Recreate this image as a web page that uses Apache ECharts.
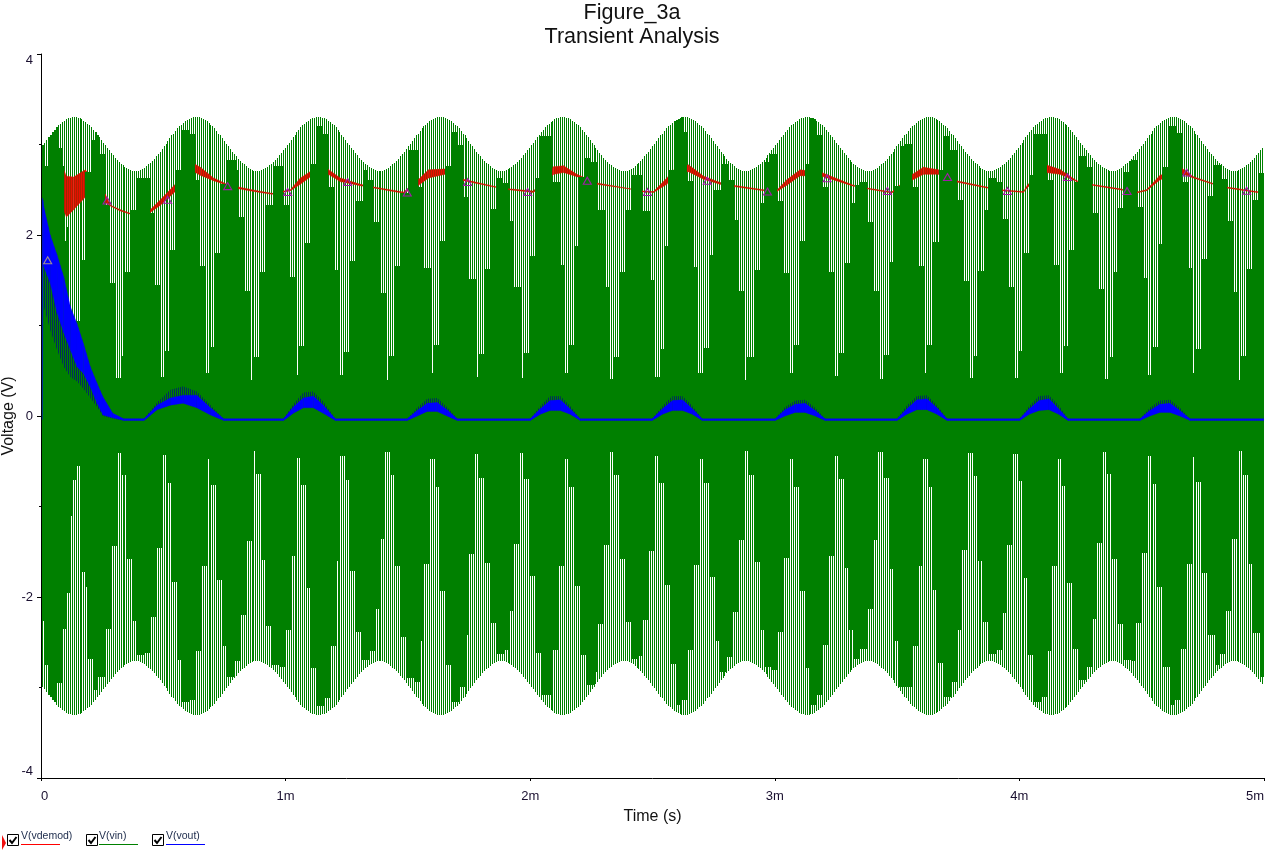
<!DOCTYPE html>
<html><head><meta charset="utf-8">
<style>html,body{margin:0;padding:0;background:#fff}#c{width:1267px;height:854px}</style>
<script src="https://cdn.jsdelivr.net/npm/echarts@6/dist/echarts.min.js"></script>
</head><body><div id="c"></div>
<script>
const legendNames=['V(vdemod)','V(vin)','V(vout)'];
const xTickLabels={0:'0',1:'1m',2:'2m',3:'3m',4:'4m',5:'5m'};
// vin envelope, one reading per carrier cycle (8 us)
const vinUpper=[2.99,3.02,3.05,3.08,3.11,3.14,3.16,3.19,3.21,3.23,3.25,3.26,3.28,3.29,3.29,3.30,3.30,
3.30,3.29,3.29,3.28,3.26,3.25,3.23,3.21,3.19,3.16,3.14,3.11,3.08,3.05,3.02,2.99,2.96,2.94,2.91,2.88,2.85,2.83,2.81,2.78,2.77,2.75,2.74,2.73,2.72,2.71,2.71,
2.71,2.71,2.72,2.73,2.74,2.76,2.78,2.80,2.82,2.84,2.87,2.89,2.92,2.95,2.98,3.01,3.04,3.07,3.10,3.12,3.15,3.18,3.20,3.22,3.24,3.26,3.27,3.28,3.29,3.30,3.30,
3.30,3.30,3.29,3.28,3.27,3.26,3.24,3.22,3.20,3.18,3.15,3.12,3.10,3.07,3.04,3.01,2.98,2.95,2.92,2.89,2.87,2.84,2.82,2.80,2.78,2.76,2.74,2.73,2.72,2.71,2.71,
2.71,2.71,2.72,2.73,2.74,2.75,2.77,2.78,2.81,2.83,2.85,2.88,2.91,2.94,2.96,2.99,3.02,3.05,3.08,3.11,3.14,3.16,3.19,3.21,3.23,3.25,3.26,3.28,3.29,3.29,3.30,3.30,
3.30,3.29,3.29,3.28,3.26,3.25,3.23,3.21,3.19,3.16,3.14,3.11,3.08,3.05,3.02,2.99,2.96,2.94,2.91,2.88,2.85,2.83,2.81,2.78,2.77,2.75,2.74,2.73,2.72,2.71,2.71,
2.71,2.71,2.72,2.73,2.74,2.76,2.78,2.80,2.82,2.84,2.87,2.89,2.92,2.95,2.98,3.01,3.04,3.07,3.10,3.12,3.15,3.18,3.20,3.22,3.24,3.26,3.27,3.28,3.29,3.30,3.30,
3.30,3.30,3.29,3.28,3.27,3.26,3.24,3.22,3.20,3.18,3.15,3.12,3.10,3.07,3.04,3.01,2.98,2.95,2.92,2.89,2.87,2.84,2.82,2.80,2.78,2.76,2.74,2.73,2.72,2.71,2.71,
2.71,2.71,2.72,2.73,2.74,2.75,2.77,2.78,2.81,2.83,2.85,2.88,2.91,2.94,2.96,2.99,3.02,3.05,3.08,3.11,3.14,3.16,3.19,3.21,3.23,3.25,3.26,3.28,3.29,3.29,3.30,3.30,
3.30,3.29,3.29,3.28,3.26,3.25,3.23,3.21,3.19,3.16,3.14,3.11,3.08,3.05,3.02,2.99,2.96,2.94,2.91,2.88,2.85,2.83,2.81,2.78,2.77,2.75,2.74,2.73,2.72,2.71,2.71,
2.71,2.71,2.72,2.73,2.74,2.76,2.78,2.80,2.82,2.84,2.87,2.89,2.92,2.95,2.98,3.01,3.04,3.07,3.10,3.12,3.15,3.18,3.20,3.22,3.24,3.26,3.27,3.28,3.29,3.30,3.30,
3.30,3.30,3.29,3.28,3.27,3.26,3.24,3.22,3.20,3.18,3.15,3.12,3.10,3.07,3.04,3.01,2.98,2.95,2.92,2.89,2.87,2.84,2.82,2.80,2.78,2.76,2.74,2.73,2.72,2.71,2.71,
2.71,2.71,2.72,2.73,2.74,2.75,2.77,2.78,2.81,2.83,2.85,2.88,2.91,2.94,2.96,2.99,3.02,3.05,3.08,3.11,3.14,3.16,3.19,3.21,3.23,3.25,3.26,3.28,3.29,3.29,3.30,3.30,
3.30,3.29,3.29,3.28,3.26,3.25,3.23,3.21,3.19,3.16,3.14,3.11,3.08,3.05,3.02,2.99,2.96,2.94,2.91,2.88,2.85,2.83,2.81,2.78,2.77,2.75,2.74,2.73,2.72,2.71,2.71,
2.71,2.71,2.72,2.73,2.74,2.76,2.78,2.80,2.82,2.84,2.87,2.89,2.92,2.95,2.98,3.01,3.04,3.07,3.10,3.12,3.15,3.18,3.20,3.22,3.24,3.26,3.27,3.28,3.29,3.30,3.30,
3.30,3.30,3.29,3.28,3.27,3.26,3.24,3.22,3.20,3.18,3.15,3.12,3.10,3.07,3.04,3.01,2.98,2.95,2.92,2.89,2.87,2.84,2.82,2.80,2.78,2.76,2.74,2.73,2.72,2.71,2.71,
2.71,2.71,2.72,2.73,2.74,2.75,2.77,2.78,2.81,2.83,2.85,2.88,2.91,2.94,2.96,2.99,3.02,3.05,3.08,3.11,3.14,3.16,3.19,3.21,3.23,3.25,3.26,3.28,3.29,3.29,3.30,3.30,
3.30,3.29,3.29,3.28,3.26,3.25,3.23,3.21,3.19,3.16,3.14,3.11,3.08,3.05,3.02,2.99,2.96,2.94,2.91,2.88,2.85,2.83,2.81,2.78,2.77,2.75,2.74,2.73,2.72,2.71,2.71,
2.71,2.71,2.72,2.73,2.74,2.76,2.78,2.80,2.82,2.84,2.87,2.89,2.92,2.95,2.98,3.01,3.04,3.07,3.10,3.12,3.15,3.18,3.20,3.22,3.24,3.26,3.27,3.28,3.29,3.30,3.30,
3.30,3.30,3.29,3.28,3.27,3.26,3.24,3.22,3.20,3.18,3.15,3.12,3.10,3.07,3.04,3.01,2.98,2.95,2.92,2.89,2.87,2.84,2.82,2.80,2.78,2.76,2.74,2.73,2.72,2.71,2.71,
2.71,2.71,2.72,2.73,2.74,2.75,2.77,2.78,2.81,2.83,2.85,2.88,2.91,2.94,2.96];
const vinLower=[-2.99,-3.02,-3.05,-3.08,-3.11,-3.14,-3.16,-3.19,-3.21,-3.23,-3.25,-3.26,-3.28,-3.29,-3.29,-3.30,-3.30,
-3.30,-3.29,-3.29,-3.28,-3.26,-3.25,-3.23,-3.21,-3.19,-3.16,-3.14,-3.11,-3.08,-3.05,-3.02,-2.99,-2.96,-2.94,-2.91,-2.88,-2.85,-2.83,-2.81,-2.78,-2.77,-2.75,-2.74,-2.73,-2.72,-2.71,-2.71,
-2.71,-2.71,-2.72,-2.73,-2.74,-2.76,-2.78,-2.80,-2.82,-2.84,-2.87,-2.89,-2.92,-2.95,-2.98,-3.01,-3.04,-3.07,-3.10,-3.12,-3.15,-3.18,-3.20,-3.22,-3.24,-3.26,-3.27,-3.28,-3.29,-3.30,-3.30,
-3.30,-3.30,-3.29,-3.28,-3.27,-3.26,-3.24,-3.22,-3.20,-3.18,-3.15,-3.12,-3.10,-3.07,-3.04,-3.01,-2.98,-2.95,-2.92,-2.89,-2.87,-2.84,-2.82,-2.80,-2.78,-2.76,-2.74,-2.73,-2.72,-2.71,-2.71,
-2.71,-2.71,-2.72,-2.73,-2.74,-2.75,-2.77,-2.78,-2.81,-2.83,-2.85,-2.88,-2.91,-2.94,-2.96,-2.99,-3.02,-3.05,-3.08,-3.11,-3.14,-3.16,-3.19,-3.21,-3.23,-3.25,-3.26,-3.28,-3.29,-3.29,-3.30,-3.30,
-3.30,-3.29,-3.29,-3.28,-3.26,-3.25,-3.23,-3.21,-3.19,-3.16,-3.14,-3.11,-3.08,-3.05,-3.02,-2.99,-2.96,-2.94,-2.91,-2.88,-2.85,-2.83,-2.81,-2.78,-2.77,-2.75,-2.74,-2.73,-2.72,-2.71,-2.71,
-2.71,-2.71,-2.72,-2.73,-2.74,-2.76,-2.78,-2.80,-2.82,-2.84,-2.87,-2.89,-2.92,-2.95,-2.98,-3.01,-3.04,-3.07,-3.10,-3.12,-3.15,-3.18,-3.20,-3.22,-3.24,-3.26,-3.27,-3.28,-3.29,-3.30,-3.30,
-3.30,-3.30,-3.29,-3.28,-3.27,-3.26,-3.24,-3.22,-3.20,-3.18,-3.15,-3.12,-3.10,-3.07,-3.04,-3.01,-2.98,-2.95,-2.92,-2.89,-2.87,-2.84,-2.82,-2.80,-2.78,-2.76,-2.74,-2.73,-2.72,-2.71,-2.71,
-2.71,-2.71,-2.72,-2.73,-2.74,-2.75,-2.77,-2.78,-2.81,-2.83,-2.85,-2.88,-2.91,-2.94,-2.96,-2.99,-3.02,-3.05,-3.08,-3.11,-3.14,-3.16,-3.19,-3.21,-3.23,-3.25,-3.26,-3.28,-3.29,-3.29,-3.30,-3.30,
-3.30,-3.29,-3.29,-3.28,-3.26,-3.25,-3.23,-3.21,-3.19,-3.16,-3.14,-3.11,-3.08,-3.05,-3.02,-2.99,-2.96,-2.94,-2.91,-2.88,-2.85,-2.83,-2.81,-2.78,-2.77,-2.75,-2.74,-2.73,-2.72,-2.71,-2.71,
-2.71,-2.71,-2.72,-2.73,-2.74,-2.76,-2.78,-2.80,-2.82,-2.84,-2.87,-2.89,-2.92,-2.95,-2.98,-3.01,-3.04,-3.07,-3.10,-3.12,-3.15,-3.18,-3.20,-3.22,-3.24,-3.26,-3.27,-3.28,-3.29,-3.30,-3.30,
-3.30,-3.30,-3.29,-3.28,-3.27,-3.26,-3.24,-3.22,-3.20,-3.18,-3.15,-3.12,-3.10,-3.07,-3.04,-3.01,-2.98,-2.95,-2.92,-2.89,-2.87,-2.84,-2.82,-2.80,-2.78,-2.76,-2.74,-2.73,-2.72,-2.71,-2.71,
-2.71,-2.71,-2.72,-2.73,-2.74,-2.75,-2.77,-2.78,-2.81,-2.83,-2.85,-2.88,-2.91,-2.94,-2.96,-2.99,-3.02,-3.05,-3.08,-3.11,-3.14,-3.16,-3.19,-3.21,-3.23,-3.25,-3.26,-3.28,-3.29,-3.29,-3.30,-3.30,
-3.30,-3.29,-3.29,-3.28,-3.26,-3.25,-3.23,-3.21,-3.19,-3.16,-3.14,-3.11,-3.08,-3.05,-3.02,-2.99,-2.96,-2.94,-2.91,-2.88,-2.85,-2.83,-2.81,-2.78,-2.77,-2.75,-2.74,-2.73,-2.72,-2.71,-2.71,
-2.71,-2.71,-2.72,-2.73,-2.74,-2.76,-2.78,-2.80,-2.82,-2.84,-2.87,-2.89,-2.92,-2.95,-2.98,-3.01,-3.04,-3.07,-3.10,-3.12,-3.15,-3.18,-3.20,-3.22,-3.24,-3.26,-3.27,-3.28,-3.29,-3.30,-3.30,
-3.30,-3.30,-3.29,-3.28,-3.27,-3.26,-3.24,-3.22,-3.20,-3.18,-3.15,-3.12,-3.10,-3.07,-3.04,-3.01,-2.98,-2.95,-2.92,-2.89,-2.87,-2.84,-2.82,-2.80,-2.78,-2.76,-2.74,-2.73,-2.72,-2.71,-2.71,
-2.71,-2.71,-2.72,-2.73,-2.74,-2.75,-2.77,-2.78,-2.81,-2.83,-2.85,-2.88,-2.91,-2.94,-2.96,-2.99,-3.02,-3.05,-3.08,-3.11,-3.14,-3.16,-3.19,-3.21,-3.23,-3.25,-3.26,-3.28,-3.29,-3.29,-3.30,-3.30,
-3.30,-3.29,-3.29,-3.28,-3.26,-3.25,-3.23,-3.21,-3.19,-3.16,-3.14,-3.11,-3.08,-3.05,-3.02,-2.99,-2.96,-2.94,-2.91,-2.88,-2.85,-2.83,-2.81,-2.78,-2.77,-2.75,-2.74,-2.73,-2.72,-2.71,-2.71,
-2.71,-2.71,-2.72,-2.73,-2.74,-2.76,-2.78,-2.80,-2.82,-2.84,-2.87,-2.89,-2.92,-2.95,-2.98,-3.01,-3.04,-3.07,-3.10,-3.12,-3.15,-3.18,-3.20,-3.22,-3.24,-3.26,-3.27,-3.28,-3.29,-3.30,-3.30,
-3.30,-3.30,-3.29,-3.28,-3.27,-3.26,-3.24,-3.22,-3.20,-3.18,-3.15,-3.12,-3.10,-3.07,-3.04,-3.01,-2.98,-2.95,-2.92,-2.89,-2.87,-2.84,-2.82,-2.80,-2.78,-2.76,-2.74,-2.73,-2.72,-2.71,-2.71,
-2.71,-2.71,-2.72,-2.73,-2.74,-2.75,-2.77,-2.78,-2.81,-2.83,-2.85,-2.88,-2.91,-2.94,-2.96];
// white-gap blocks on the positive side: first carrier cycle of block, and how far down the gaps reach (3.4 = no gap)
const topGapCycle=[0,1,3,8,10,11,12,13,19,22,25,27,29,32,34,37,40,42,45,48,52,55,57,60,62,65,68,71,75,78,80,83,85,88,91,94,99,100,103,106,108,111,114,118,120,123,126,129,131,134,137,140,143,146,149,152,154,157,160,164,166,169,173,176,177,180,183,187,190,192,195,199,200,203,206,
209,212,215,218,222,223,226,229,232,235,238,241,245,246,249,252,254,259,261,265,267,269,272,274,277,280,284,288,290,292,295,298,301,304,307,311,313,316,318,320,323,328,330,333,335,338,341,343,347,351,354,356,359,360,364,367,369,372,376,379,382,384,387,390,393,396,399,402,405,407,410,413,416,
418,422,425,428,430,433,436,439,441,445,448,451,452,455,459,461,464,468,471,474,476,478,482,484,488,491,494,497,499,502,505,507,511,514,517,520,522,525,528,530,534,537,540,543,545,548,550,553,556,560,563,565,568,571,573,576,580,583,586,588,590,593,596,599,603,606,609,611,613,616,619,622];
const topGapVolt=[3.4,2.76,3.4,2.96,2.76,1.93,2.09,1.05,1.72,2.70,3.05,3.4,2.90,2.33,1.47,0.42,0.66,1.59,2.28,2.63,2.63,2.24,1.45,0.43,0.72,1.83,2.72,3.16,3.12,2.61,1.66,0.48,0.76,1.80,2.56,2.83,2.72,2.20,1.38,0.40,0.65,1.59,2.33,2.76,2.76,2.33,1.54,0.45,0.77,1.91,2.78,3.20,3.12,2.53,1.61,0.45,0.71,1.71,2.38,2.72,2.61,2.14,1.36,0.40,0.66,1.66,2.46,2.94,2.94,2.53,1.63,0.48,0.79,1.93,2.76,
3.14,2.99,2.42,1.51,0.43,0.68,1.62,2.29,2.63,2.58,2.16,1.42,0.42,0.70,1.77,2.63,3.09,3.09,2.59,1.67,0.48,0.78,1.88,2.64,2.85,2.81,2.28,1.43,0.41,0.65,1.59,2.28,2.66,2.66,2.26,1.50,0.43,0.74,1.88,2.72,3.4,3.14,2.60,1.65,0.47,0.75,1.78,2.50,2.79,2.61,2.17,1.38,0.40,0.65,1.61,2.35,2.81,2.90,2.38,1.58,0.47,0.78,1.93,2.78,3.4,3.10,2.53,1.59,0.44,0.70,1.69,2.35,2.55,
2.59,2.14,1.38,0.41,0.67,1.70,2.54,2.98,3.01,2.53,1.66,0.48,0.79,1.92,2.72,3.09,2.94,2.39,1.49,0.42,0.66,1.60,2.28,2.63,2.59,2.18,1.43,0.42,0.72,1.80,2.66,3.12,3.12,2.61,1.67,0.48,0.77,1.83,2.59,2.87,2.75,2.24,1.40,0.41,0.65,1.59,2.30,2.70,2.83,2.31,1.52,0.45,0.76,1.90,2.75,3.20,3.13,2.59,1.63,0.47,0.74,1.74,2.43,2.77,2.62,2.15,1.37,0.40,0.66,1.62,2.39,2.68];
// white-gap blocks on the negative side (-9 = no gap)
const bottomGapCycle=[0,1,3,7,10,12,14,15,17,19,22,23,26,28,32,35,38,40,43,46,48,52,55,58,61,63,66,69,71,75,78,81,84,86,89,92,94,98,101,104,107,109,112,114,117,121,124,127,129,132,135,137,140,144,147,150,152,155,157,160,163,167,170,172,175,178,180,183,186,190,193,195,198,201,203,206,
209,213,216,218,221,223,226,229,232,236,238,241,244,246,249,252,255,259,261,264,267,269,272,275,278,282,284,287,290,292,295,298,301,304,307,310,313,315,318,321,324,327,330,333,336,338,341,344,346,350,353,356,359,361,364,367,369,373,376,379,382,384,387,390,392,396,399,402,405,407,410,412,415,
418,422,425,427,430,433,435,438,442,445,448,450,453,455,458,461,465,468,470,473,476,478,481,484,488,491,493,496,499,501,504,507,511,514,516,519,521,524,527,530,534,537,539,542,544,547,550,553,557,559,562,565,567,570,573,577,579,582,585,588,590,593,596,600,602,605,608,611,614,617,619,623];
const bottomGapVolt=[-2.27,-2.75,-9,-2.95,-2.35,-1.96,-1.11,-0.71,-0.55,-1.72,-1.89,-2.68,-3.03,-2.88,-2.35,-1.44,-0.41,-0.65,-1.58,-2.27,-2.64,-2.62,-2.22,-1.46,-0.43,-0.74,-1.83,-2.70,-3.16,-3.14,-2.60,-1.66,-0.47,-0.76,-1.81,-2.54,-2.88,-2.71,-2.20,-1.38,-0.39,-0.64,-1.59,-2.32,-2.75,-2.77,-2.36,-1.55,-0.46,-0.76,-1.90,-2.78,-3.20,-3.12,-2.54,-1.60,-0.44,-0.71,-1.71,-2.39,-2.70,-2.60,-2.13,-1.36,-0.40,-0.65,-1.66,-2.44,-2.90,-2.94,-2.49,-1.63,-0.47,-0.78,-1.93,-2.75,
-3.16,-2.99,-2.42,-1.52,-0.42,-0.68,-1.62,-2.29,-2.63,-2.59,-2.16,-1.41,-0.41,-0.70,-1.77,-2.62,-3.08,-3.08,-2.59,-1.66,-0.48,-0.78,-1.88,-2.64,-2.97,-2.83,-2.30,-1.43,-0.40,-0.65,-1.58,-2.28,-2.68,-2.65,-2.25,-1.49,-0.44,-0.74,-1.87,-2.74,-3.19,-3.14,-2.59,-1.65,-0.47,-0.74,-1.78,-2.49,-2.83,-2.66,-2.17,-1.37,-0.39,-0.65,-1.61,-2.36,-2.77,-2.81,-2.39,-1.57,-0.47,-0.78,-1.93,-2.79,-3.19,-3.08,-2.53,-1.55,-0.44,-0.70,-1.68,-2.36,-2.68,
-2.58,-2.13,-1.37,-0.40,-0.68,-1.69,-2.49,-2.99,-2.99,-2.54,-1.66,-0.48,-0.79,-1.92,-2.73,-3.10,-2.94,-2.37,-1.48,-0.41,-0.66,-1.60,-2.28,-2.63,-2.59,-2.18,-1.43,-0.42,-0.72,-1.79,-2.64,-3.16,-3.11,-2.60,-1.66,-0.48,-0.77,-1.85,-2.57,-2.92,-2.77,-2.24,-1.40,-0.40,-0.64,-1.58,-2.30,-2.70,-2.71,-2.29,-1.51,-0.44,-0.75,-1.89,-2.77,-3.19,-3.14,-2.58,-1.64,-0.45,-0.73,-1.74,-2.42,-2.75,-2.63,-2.15,-1.36,-0.39,-0.65,-1.63,-2.40,-2.88];
// V(vdemod): carrier cycle, band top and bottom
const demodCycle=[10.2,12.3,16,22,32.2,34.8,39.9,45,55.2,60.4,68,78.3,80.8,87.6,94.5,100.4,109.8,117.5,126.9,132,137,146.3,152.4,162.7,169.5,184.8,192.5,197.6,206,212.1,215.5,230.9,236.8,251.3,261.6,266.7,273.5,283.7,299.9,307.6,312.7,319.5,323.3,330.6,338.3,346.8,353.6,369,375.8,380.9,387.7,398.8,415,418.4,421.8,434.6,444.5,450.8,458.5,467.8,483.2,490.9,502,504,513.5,520.7,529.2,536.9,551.4,559.9,565,571.9,582.9,588.9,599.1,605.9,621.3,625];
const demodHigh=[2.76,2.65,2.64,2.72,2.45,2.33,2.28,2.24,2.28,2.39,2.56,2.78,2.75,2.63,2.56,2.53,2.49,2.46,2.50,2.63,2.70,2.725,2.63,2.56,2.53,2.475,2.615,2.72,2.73,2.65,2.615,2.54,2.515,2.485,2.755,2.765,2.67,2.575,2.515,2.485,2.48,2.63,2.725,2.775,2.65,2.58,2.55,2.50,2.495,2.61,2.72,2.69,2.55,2.54,2.52,2.475,2.66,2.75,2.72,2.60,2.53,2.50,2.48,2.55,2.775,2.725,2.60,2.56,2.51,2.475,2.50,2.66,2.74,2.645,2.57,2.53,2.48,2.475];
const demodLow=[2.31,2.20,2.28,2.42,2.36,2.32,2.265,2.23,2.25,2.33,2.48,2.69,2.66,2.60,2.55,2.51,2.475,2.45,2.49,2.56,2.64,2.67,2.59,2.545,2.52,2.46,2.55,2.63,2.67,2.63,2.60,2.53,2.505,2.47,2.67,2.69,2.645,2.56,2.51,2.475,2.47,2.56,2.68,2.70,2.615,2.56,2.535,2.49,2.48,2.55,2.655,2.65,2.54,2.53,2.51,2.465,2.60,2.67,2.67,2.585,2.52,2.49,2.47,2.525,2.69,2.67,2.59,2.55,2.50,2.465,2.49,2.61,2.68,2.63,2.56,2.52,2.47,2.465];
// V(vout): carrier cycle, solid band top and bottom, stripe fringe top and bottom
const voutCycle=[0,0.3,0.7,4,7.5,10.9,14.3,17.7,21,24.5,28,31,36,41.6,52,58.7,65.5,72,79,86,92.8,123.4,128.4,133.5,138.6,143.7,149.9,186.7,191.8,196.9,202,207,212.3,249.6,254.8,259.8,265,270,275.2,312,317.3,322.4,327.5,332.6,337.6,375,380,385.2,390.2,395.4,400.5,437.3,442.4,447.5,452.6,457.7,462.9,500,505,510,515,520,524.8,561.6,566.7,571.8,577,582,587.2,625];
const voutHigh=[2.41,2.38,2.31,2.0,1.78,1.54,1.21,1.02,.80,.545,.36,.21,.03,-.03,-.03,.12,.2,.23,.23,.09,-.03,-.03,.1,.2,.22,.12,-.03,-.03,.06,.14,.15,.07,-.03,-.03,.08,.17,.18,.08,-.03,-.03,.08,.17,.18,.08,-.03,-.03,.07,.13,.14,.06,-.03,-.03,.08,.18,.19,.09,-.03,-.03,.08,.17,.19,.08,-.03,-.03,.06,.13,.14,.06,-.03,-.03];
const voutLow=[-.04,1.70,1.65,1.47,1.14,.92,.73,.545,.47,.32,.14,.01,-.02,-.05,-.05,.07,.12,.14,.09,.01,-.05,-.05,.03,.09,.09,.03,-.05,-.05,.0,.05,.05,.0,-.05,-.05,.02,.06,.06,.02,-.05,-.05,.02,.06,.06,.02,-.05,-.05,.0,.04,.04,.0,-.05,-.05,.02,.07,.07,.02,-.05,-.05,.02,.06,.07,.02,-.05,-.05,.0,.04,.04,.0,-.05,-.05];
const voutFringeHigh=[2.41,2.38,2.31,2.0,1.78,1.54,1.21,1.02,.80,.545,.36,.21,.03,-.03,-.03,.15,.29,.33,.27,.12,-.03,-.03,.13,.26,.27,.16,-.03,-.03,.09,.19,.2,.1,-.03,-.03,.11,.22,.22,.11,-.03,-.03,.11,.22,.22,.11,-.03,-.03,.1,.17,.18,.09,-.03,-.03,.12,.22,.23,.12,-.03,-.03,.11,.22,.23,.12,-.03,-.03,.09,.17,.18,.09,-.03,-.03];
const voutFringeLow=[-.04,1.30,1.21,.95,.73,.545,.43,.38,.30,.2,.1,0,-.03,-.05,-.05,.07,.12,.14,.09,.01,-.05,-.05,.03,.09,.09,.03,-.05,-.05,.0,.05,.05,.0,-.05,-.05,.02,.06,.06,.02,-.05,-.05,.02,.06,.06,.02,-.05,-.05,.0,.04,.04,.0,-.05,-.05,.02,.07,.07,.02,-.05,-.05,.02,.06,.07,.02,-.05,-.05,.0,.04,.04,.0,-.05,-.05];
// curve-marker triangles
const markerCycle=[33.1,64.1,94.8,125.5,156.2,186.7,217.6,248.3,278.8,309.6,340.2,371,401.5,432.4,463.1,493.8,524.5,555,585.5,616.2];
const markerVolt=[2.38,2.39,2.54,2.475,2.585,2.47,2.585,2.475,2.60,2.475,2.60,2.48,2.626,2.486,2.64,2.486,2.64,2.486,2.69,2.49];
const voutMarkerCycle=[2.7];
const voutMarkerVolt=[1.72];

const CYCLE_MS=0.00799, START_MS=0.0057;
const cycleTime=c=>START_MS+c*CYCLE_MS;
const GREEN='#008000', RED='#e81000', BLUE='#0000ff', PURPLE='#a01ca8';

function gapValue(cycles,volts,i){let k=0;while(k+1<cycles.length&&cycles[k+1]<=i)k++;return volts[k];}
const columns=vinUpper.map((hi,i)=>{
  const lo=vinLower[i];
  return [cycleTime(i),hi,lo,Math.min(hi,gapValue(topGapCycle,topGapVolt,i)),Math.max(lo,gapValue(bottomGapCycle,bottomGapVolt,i)),cycleTime(i+1)];
});
function segs(cy,a,b){const o=[];for(let i=0;i+1<cy.length;i++)o.push([cycleTime(cy[i]),a[i],b[i],cycleTime(cy[i+1]),a[i+1],b[i+1]]);return o;}
function polySeries(data,fill,z,stroke){
  return {type:'custom',z,silent:true,clip:true,data,encode:{x:[0,3],y:[1,2,4,5]},progressive:0,animation:false,
    renderItem:(p,api)=>{
      const a=api.coord([api.value(0),api.value(1)]),b=api.coord([api.value(3),api.value(4)]),
            c=api.coord([api.value(3),api.value(5)]),d=api.coord([api.value(0),api.value(2)]);
      return {type:'polygon',shape:{points:[a,b,c,d]},style:stroke?{fill:fill,stroke:fill,lineWidth:stroke}:{fill:fill}};
    }};
}
function columnSeries(z,color,yHi,yLo,odd){
  return {type:'custom',z,silent:true,clip:true,data:columns,encode:{x:[0,5],y:[1,2,3,4]},progressive:0,animation:false,
    renderItem:(p,api)=>{
      const x0=Math.round(api.coord([api.value(0),0])[0]),x1=Math.round(api.coord([api.value(5),0])[0]);
      const y0=Math.round(api.coord([0,api.value(yHi)])[1]),y1=Math.round(api.coord([0,api.value(yLo)])[1]);
      const x=odd?x0+1:x0,w=odd?Math.max(0,x1-x0-1):1;
      return {type:'rect',shape:{x,y:y0,width:w,height:y1-y0},style:{fill:color}};
    }};
}
function comb(color){
  const cv=document.createElement('canvas');cv.width=2;cv.height=2;
  const g=cv.getContext('2d');g.fillStyle=color;g.fillRect(0,0,1,2);
  return {image:cv,repeat:'repeat'};
}

function checkbox(x,y){return [
  {type:'rect',shape:{x:x+.5,y:y+.5,width:11,height:11},style:{fill:'#fff',stroke:'#000',lineWidth:1}},
  {type:'polyline',shape:{points:[[x+2.5,y+6],[x+5,y+9],[x+9.5,y+3]]},style:{fill:'none',stroke:'#000',lineWidth:2}}];}
function legendEntry(name,xBox,xText,color){return [
  ...checkbox(xBox,834),
  {type:'text',style:{text:name,x:xText,y:836,fill:'#1b2a4a',font:'10.5px "Liberation Sans",Arial,sans-serif',verticalAlign:'middle'}},
  {type:'rect',shape:{x:xText,y:844,width:39,height:1},style:{fill:color}}];}

const chart=echarts.init(document.getElementById('c'),null,{renderer:'canvas'});
chart.setOption({
  animation:false,backgroundColor:'#fff',
  title:{text:'Figure_3a\nTransient Analysis',left:627,top:-4,textAlign:'center',
    textStyle:{fontFamily:'"Liberation Sans",Arial,sans-serif',fontSize:21.5,fontWeight:'normal',color:'#111',lineHeight:24}},
  grid:{left:41,right:3,top:54,bottom:76,containLabel:false,outerBoundsMode:'none'},
  xAxis:{type:'value',min:0,max:5,interval:1,name:'Time (s)',nameLocation:'middle',nameGap:31,nameMoveOverlap:false,
    nameTextStyle:{fontFamily:'"Liberation Sans",Arial,sans-serif',fontSize:16,color:'#111'},
    axisLine:{onZero:false,lineStyle:{color:'#000',width:1}},axisTick:{length:3,lineStyle:{color:'#000'}},
    splitLine:{show:false},minorTick:{show:false},
    axisLabel:{margin:12,fontFamily:'"Liberation Sans",Arial,sans-serif',fontSize:13,color:'#1a1030',
      formatter:v=>xTickLabels[v],alignMinLabel:'left',alignMaxLabel:'right'}},
  yAxis:{type:'value',min:-4,max:4,interval:2,name:'Voltage (V)',nameLocation:'middle',nameRotate:90,nameGap:24,nameMoveOverlap:false,
    nameTextStyle:{fontFamily:'"Liberation Sans",Arial,sans-serif',fontSize:16,color:'#111'},
    axisLine:{onZero:false,lineStyle:{color:'#000',width:1}},axisTick:{length:4,lineStyle:{color:'#000'}},
    minorTick:{show:true,splitNumber:2,length:2,lineStyle:{color:'#000'}},
    splitLine:{show:false},minorSplitLine:{show:false},
    axisLabel:{margin:8,fontFamily:'"Liberation Sans",Arial,sans-serif',fontSize:13,color:'#1a1030',
      verticalAlignMaxLabel:'top',verticalAlignMinLabel:'bottom'}},
  series:[
    columnSeries(1,GREEN,1,2,false),
    polySeries(segs(demodCycle,demodHigh,demodLow),RED,2,0.4),
    polySeries(segs(demodCycle,demodHigh,demodLow),comb('rgba(0,80,0,0.25)'),3),
    columnSeries(4,GREEN,3,4,false),
    columnSeries(4,GREEN,3,4,true),
    polySeries(segs(voutCycle,voutFringeHigh,voutFringeLow),comb('#00305a'),5),
    polySeries(segs(voutCycle,voutHigh,voutLow),BLUE,6,0.3),
    {type:'scatter',z:7,silent:true,symbol:'triangle',symbolSize:[8,7],
      data:markerCycle.map((c,i)=>[cycleTime(c),markerVolt[i]]),
      itemStyle:{color:'rgba(0,0,0,0)',borderColor:PURPLE,borderWidth:1.1,opacity:1}},
    {type:'scatter',z:7,silent:true,symbol:'triangle',symbolSize:[8,7],
      data:voutMarkerCycle.map((c,i)=>[cycleTime(c),voutMarkerVolt[i]]),
      itemStyle:{color:'rgba(0,0,0,0)',borderColor:'#a09090',borderWidth:1.1,opacity:1}}
  ],
  graphic:[
    {type:'polygon',shape:{points:[[2,835],[6,843],[2,850]]},style:{fill:'#f01010'}},
    ...legendEntry(legendNames[0],7,21,'#ff0000'),
    ...legendEntry(legendNames[1],86,99,GREEN),
    ...legendEntry(legendNames[2],152,166,BLUE)
  ]
});
</script></body></html>
